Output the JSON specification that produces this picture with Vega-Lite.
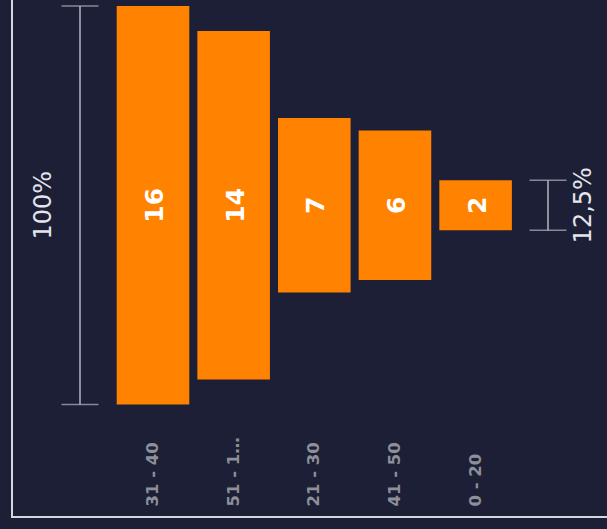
{
  "$schema": "https://vega.github.io/schema/vega-lite/v6.json",
  "width": 600,
  "height": 522,
  "autosize": {"type": "none"},
  "padding": {"left": 12, "top": -5, "right": 0, "bottom": 12},
  "background": "#1c1f35",
  "config": {"view": {"stroke": "#d5d6de", "strokeWidth": 2}, "font": "DejaVu Sans"},
  "datasets": {
    "funnel": [
      {"age": "31 - 40", "count": 16},
      {"age": "51 - 100", "count": 14},
      {"age": "21 - 30", "count": 7},
      {"age": "41 - 50", "count": 6},
      {"age": "0 - 20", "count": 2}
    ],
    "brackets": [
      {"age": "31 - 40", "count": 16, "note": "100%"},
      {"age": "0 - 20", "count": 2, "note": "12,5%"}
    ]
  },
  "layer": [
    {
      "data": {"name": "funnel"},
      "mark": {"type": "bar", "color": "#ff8200"},
      "encoding": {
        "x": {
          "field": "age", "type": "nominal", "title": null,
          "scale": {"domain": ["31 - 40", "51 - 100", "21 - 30", "41 - 50", "0 - 20"], "range": [104.7, 499.9], "paddingInner": 0.1, "paddingOuter": 0},
          "axis": {
            "domain": false,
            "ticks": false, "tickSize": 0, "grid": false,
            "labelAngle": 270, "labelAlign": "left", "labelBaseline": "middle",
            "labelPadding": -11, "labelColor": "#8d8f99", "labelFont": "DejaVu Sans",
            "labelFontWeight": "bold", "labelFontSize": 16.5, "labelLimit": 72, "labelOverlap": false
          }
        },
        "y": {
          "field": "count", "type": "quantitative", "stack": "center", "title": null,
          "scale": {"domain": [-4.517, 16.4417], "nice": false, "zero": false},
          "axis": null
        }
      }
    },
    {
      "data": {"name": "funnel"},
      "mark": {"type": "text", "angle": 270, "font": "DejaVu Sans", "fontWeight": "bold", "fontSize": 25, "color": "#ffffff", "align": "center", "baseline": "middle", "dy": 2},
      "encoding": {
        "x": {"field": "age", "type": "nominal", "title": null},
        "y": {"field": "count", "type": "quantitative", "stack": "center", "bandPosition": 0.5, "title": null},
        "text": {"field": "count", "type": "quantitative"}
      }
    },
    {
      "data": {"name": "brackets"},
      "mark": {"type": "rule", "color": "#b4b6c2", "strokeWidth": 1.5},
      "encoding": {
        "x": {"field": "age", "type": "nominal", "title": null},
        "xOffset": {"field": "note", "type": "nominal", "scale": {"type": "point", "domain": ["100%", "12,5%"], "range": [-36.7, 108.7], "padding": 0}},
        "y": {"field": "count", "type": "quantitative", "stack": "center", "title": null}
      }
    },
    {
      "data": {"name": "brackets"},
      "mark": {"type": "tick", "color": "#b4b6c2", "thickness": 1.5, "size": 37, "orient": "horizontal"},
      "encoding": {
        "x": {"field": "age", "type": "nominal", "title": null},
        "xOffset": {"field": "note", "type": "nominal", "scale": {"type": "point", "domain": ["100%", "12,5%"], "range": [-36.7, 108.7], "padding": 0}},
        "y": {"field": "count", "type": "quantitative", "stack": "center", "bandPosition": 1, "title": null}
      }
    },
    {
      "data": {"name": "brackets"},
      "mark": {"type": "tick", "color": "#b4b6c2", "thickness": 1.5, "size": 37, "orient": "horizontal"},
      "encoding": {
        "x": {"field": "age", "type": "nominal", "title": null},
        "xOffset": {"field": "note", "type": "nominal", "scale": {"type": "point", "domain": ["100%", "12,5%"], "range": [-36.7, 108.7], "padding": 0}},
        "y": {"field": "count", "type": "quantitative", "stack": "center", "bandPosition": 0, "title": null}
      }
    },
    {
      "data": {"name": "brackets"},
      "mark": {"type": "text", "angle": 270, "font": "DejaVu Sans", "fontSize": 24, "color": "#e4e5ec", "align": "center", "baseline": "middle"},
      "encoding": {
        "x": {"field": "age", "type": "nominal", "title": null},
        "xOffset": {"field": "note", "type": "nominal", "scale": {"type": "point", "domain": ["100%", "12,5%"], "range": [-72.7, 144.7], "padding": 0}},
        "y": {"field": "count", "type": "quantitative", "stack": "center", "bandPosition": 0.5, "title": null},
        "text": {"field": "note", "type": "nominal"}
      }
    }
  ],
  "resolve": {"scale": {"xOffset": "independent"}}
}
